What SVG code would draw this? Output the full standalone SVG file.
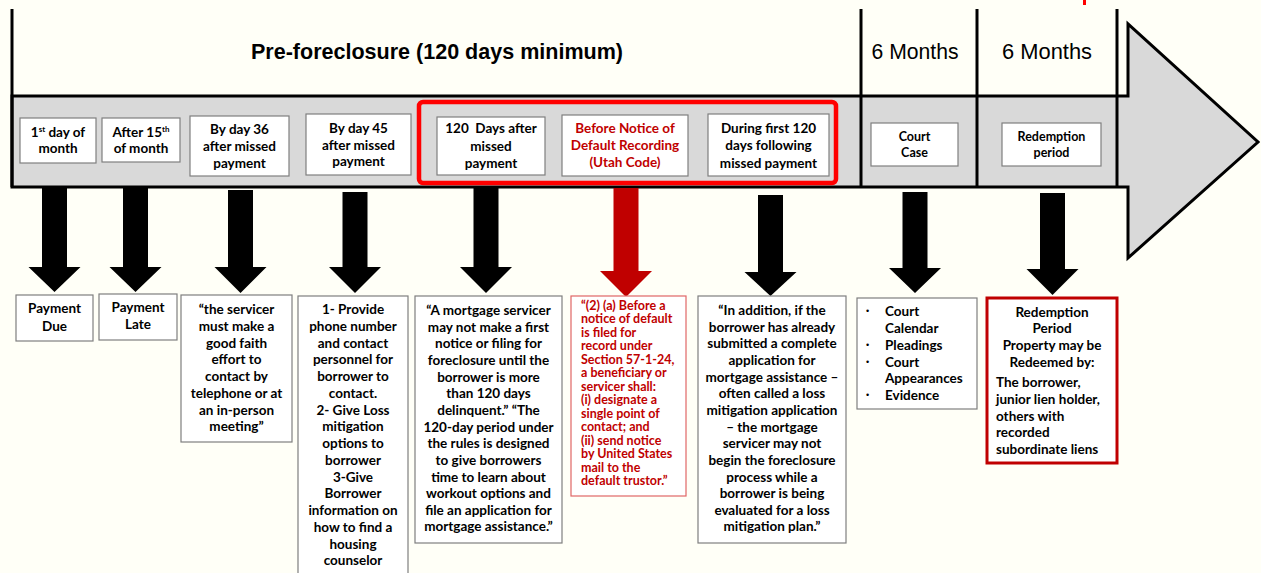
<svg xmlns="http://www.w3.org/2000/svg" width="1261" height="573" viewBox="0 0 1261 573">
<style>
.t{font-family:Lato,"Liberation Sans",sans-serif;font-weight:bold;font-size:13.5px;fill:#000}
.c{text-anchor:middle}
.r{fill:#C00000}
.sm{font-size:12.5px}
.bul{font-family:"Liberation Sans",sans-serif;font-size:9px;fill:#000}
.box{fill:#fff;stroke:#7F7F7F;stroke-width:1.2}
.line{stroke:#000;stroke-width:3;fill:none}
.hdr{font-family:"Liberation Sans",Arial,sans-serif;font-size:22px;fill:#000;text-anchor:middle}
.ar{fill:#000}
.ar.red{fill:#C00000}
</style>
<rect width="1261" height="573" fill="#FFFFF7"/>
<rect x="1083" y="0" width="3" height="5" fill="#FF0000"/>

<g id="timeline">
<path d="M12,96 L1128,96 L1128,24 L1258,142 L1128,258 L1128,187 L12,187 Z" fill="#D9D9D9" stroke="#000" stroke-width="3" stroke-linejoin="miter"/>
<line class="line" x1="12" y1="9" x2="12" y2="187"/>
<line class="line" x1="861" y1="9" x2="861" y2="187"/>
<line class="line" x1="977" y1="9" x2="977" y2="187"/>
<line class="line" x1="1117" y1="9" x2="1117" y2="187"/>
<text class="hdr" font-weight="bold" x="437" y="59" textLength="372" lengthAdjust="spacingAndGlyphs">Pre-foreclosure (120 days minimum)</text>
<text class="hdr" x="915" y="59" textLength="87" lengthAdjust="spacingAndGlyphs">6 Months</text>
<text class="hdr" x="1047" y="59" textLength="90" lengthAdjust="spacingAndGlyphs">6 Months</text>
<rect x="419" y="102" width="417" height="81" rx="4" fill="none" stroke="#FF0000" stroke-width="4.5"/>
</g>

<g id="n1"><rect class="box" x="20" y="118" width="76" height="45"/>
<text class="t c" x="58" y="137">1<tspan font-size="8" dy="-5">st</tspan><tspan dy="5"> day of</tspan></text>
<text class="t c" x="58" y="153">month</text></g>
<g id="n2"><rect class="box" x="102" y="118" width="78" height="44"/>
<text class="t c" x="141" y="137">After 15<tspan font-size="8" dy="-5">th</tspan></text>
<text class="t c" x="141" y="153">of month</text></g>
<g id="n3"><rect class="box" x="190" y="116" width="99" height="60"/>
<text class="t c" x="239.5" y="134">By day 36</text>
<text class="t c" x="239.5" y="151">after missed</text>
<text class="t c" x="239.5" y="168">payment</text></g>
<g id="n4"><rect class="box" x="306" y="114" width="105" height="61"/>
<text class="t c" x="358.5" y="133">By day 45</text>
<text class="t c" x="358.5" y="150">after missed</text>
<text class="t c" x="358.5" y="166">payment</text></g>
<g id="n5"><rect class="box" x="437" y="117" width="108" height="58"/>
<text class="t c" x="491" y="133" xml:space="preserve">120  Days after</text>
<text class="t c" x="491" y="151">missed</text>
<text class="t c" x="491" y="168">payment</text></g>
<g id="n6"><rect class="box" x="562" y="115" width="126" height="61"/>
<text class="t c r" x="625" y="133">Before Notice of</text>
<text class="t c r" x="625" y="150">Default Recording</text>
<text class="t c r" x="625" y="167">(Utah Code)</text></g>
<g id="n7"><rect class="box" x="708" y="114" width="121" height="62"/>
<text class="t c" x="768.5" y="133">During first 120</text>
<text class="t c" x="768.5" y="150">days following</text>
<text class="t c" x="768.5" y="168">missed payment</text></g>
<g id="n8"><rect class="box" x="871" y="123" width="87" height="43"/>
<text class="t c sm" x="914.5" y="141">Court</text>
<text class="t c sm" x="914.5" y="157">Case</text></g>
<g id="n9"><rect class="box" x="1002" y="123" width="99" height="43"/>
<text class="t c sm" x="1051.5" y="141">Redemption</text>
<text class="t c sm" x="1051.5" y="157">period</text></g>

<g id="connectors">
<polygon class="ar" points="42,188 67,188 67,267 80.5,267 54.5,292 28.5,267 42,267"/>
<polygon class="ar" points="123,188 148,188 148,267 161.5,267 135.5,292 109.5,267 123,267"/>
<polygon class="ar" points="228,190 253,190 253,267 266.5,267 240.5,293 214.5,267 228,267"/>
<polygon class="ar" points="342.5,192 367.5,192 367.5,267 381,267 355,293 329,267 342.5,267"/>
<polygon class="ar" points="473.5,188 498.5,188 498.5,267 512,267 486,293 460,267 473.5,267"/>
<polygon class="ar red" points="613.5,188 638.5,188 638.5,271 652,271 626,297 600,271 613.5,271"/>
<polygon class="ar" points="758,195 783,195 783,272 796.5,272 770.5,296 744.5,272 758,272"/>
<polygon class="ar" points="902.5,192 927.5,192 927.5,268 941,268 915,293 889,268 902.5,268"/>
<polygon class="ar" points="1040,193 1065,193 1065,269 1078.5,269 1052.5,295 1026.5,269 1040,269"/>
</g>

<g id="b1"><rect class="box" x="16" y="295" width="77" height="46"/>
<text class="t c" x="54.5" y="313">Payment</text>
<text class="t c" x="54.5" y="331">Due</text></g>
<g id="b2"><rect class="box" x="99" y="294" width="78" height="46"/>
<text class="t c" x="138" y="312">Payment</text>
<text class="t c" x="138" y="329">Late</text></g>
<g id="b3"><rect class="box" x="181" y="295" width="111" height="147"/>
<text class="t c" x="236.5" y="314">“the servicer<tspan x="236.5" dy="16.75">must make a</tspan><tspan x="236.5" dy="16.75">good faith</tspan><tspan x="236.5" dy="16.75">effort to</tspan><tspan x="236.5" dy="16.75">contact by</tspan><tspan x="236.5" dy="16.75">telephone or at</tspan><tspan x="236.5" dy="16.75">an in-person</tspan><tspan x="236.5" dy="16.75">meeting”</tspan></text></g>
<g id="b4"><rect class="box" x="298" y="296" width="110" height="290"/>
<text class="t c" x="353" y="314">1- Provide<tspan x="353" dy="16.75">phone number</tspan><tspan x="353" dy="16.75">and contact</tspan><tspan x="353" dy="16.75">personnel for</tspan><tspan x="353" dy="16.75">borrower to</tspan><tspan x="353" dy="16.75">contact.</tspan><tspan x="353" dy="16.75">2- Give Loss</tspan><tspan x="353" dy="16.75">mitigation</tspan><tspan x="353" dy="16.75">options to</tspan><tspan x="353" dy="16.75">borrower</tspan><tspan x="353" dy="16.75">3-Give</tspan><tspan x="353" dy="16.75">Borrower</tspan><tspan x="353" dy="16.75">information on</tspan><tspan x="353" dy="16.75">how to find a</tspan><tspan x="353" dy="16.75">housing</tspan><tspan x="353" dy="16.75">counselor</tspan></text></g>
<g id="b5"><rect class="box" x="415" y="296" width="147" height="247"/>
<text class="t c" x="488.5" y="315">“A mortgage servicer<tspan x="488.5" dy="16.65">may not make a first</tspan><tspan x="488.5" dy="16.65">notice or filing for</tspan><tspan x="488.5" dy="16.65">foreclosure until the</tspan><tspan x="488.5" dy="16.65">borrower is more</tspan><tspan x="488.5" dy="16.65">than 120 days</tspan><tspan x="488.5" dy="16.65">delinquent.” “The</tspan><tspan x="488.5" dy="16.65">120-day period under</tspan><tspan x="488.5" dy="16.65">the rules is designed</tspan><tspan x="488.5" dy="16.65">to give borrowers</tspan><tspan x="488.5" dy="16.65">time to learn about</tspan><tspan x="488.5" dy="16.65">workout options and</tspan><tspan x="488.5" dy="16.65">file an application for</tspan><tspan x="488.5" dy="16.65">mortgage assistance.”</tspan></text></g>
<g id="b6"><rect x="571" y="296" width="115" height="200" fill="#fff" stroke="#E06666" stroke-width="1.2"/>
<text class="t r sm" x="581" y="310">“(2) (a) Before a<tspan x="581" dy="13.46">notice of default</tspan><tspan x="581" dy="13.46">is filed for</tspan><tspan x="581" dy="13.46">record under</tspan><tspan x="581" dy="13.46">Section 57-1-24,</tspan><tspan x="581" dy="13.46">a beneficiary or</tspan><tspan x="581" dy="13.46">servicer shall:</tspan><tspan x="581" dy="13.46">(i) designate a</tspan><tspan x="581" dy="13.46">single point of</tspan><tspan x="581" dy="13.46">contact; and</tspan><tspan x="581" dy="13.46">(ii) send notice</tspan><tspan x="581" dy="13.46">by United States</tspan><tspan x="581" dy="13.46">mail to the</tspan><tspan x="581" dy="13.46">default trustor.”</tspan></text></g>
<g id="b7"><rect class="box" x="698" y="296" width="148" height="247"/>
<text class="t c" x="772" y="315">“In addition, if the<tspan x="772" dy="16.65">borrower has already</tspan><tspan x="772" dy="16.65">submitted a complete</tspan><tspan x="772" dy="16.65">application for</tspan><tspan x="772" dy="16.65">mortgage assistance –</tspan><tspan x="772" dy="16.65">often called a loss</tspan><tspan x="772" dy="16.65">mitigation application</tspan><tspan x="772" dy="16.65">– the mortgage</tspan><tspan x="772" dy="16.65">servicer may not</tspan><tspan x="772" dy="16.65">begin the foreclosure</tspan><tspan x="772" dy="16.65">process while a</tspan><tspan x="772" dy="16.65">borrower is being</tspan><tspan x="772" dy="16.65">evaluated for a loss</tspan><tspan x="772" dy="16.65">mitigation plan.”</tspan></text></g>
<g id="b8"><rect class="box" x="857" y="298" width="120" height="111"/>
<text class="bul" x="866" y="314">•</text><text class="t" x="885" y="316">Court</text>
<text class="t" x="885" y="333">Calendar</text>
<text class="bul" x="866" y="348">•</text><text class="t" x="885" y="350">Pleadings</text>
<text class="bul" x="866" y="364.5">•</text><text class="t" x="885" y="366.5">Court</text>
<text class="t" x="885" y="383">Appearances</text>
<text class="bul" x="866" y="398">•</text><text class="t" x="885" y="400">Evidence</text></g>
<g id="b9"><rect x="987" y="298" width="130" height="165" fill="#fff" stroke="#C00000" stroke-width="3"/>
<text class="t c" x="1052" y="317">Redemption</text>
<text class="t c" x="1052" y="333">Period</text>
<text class="t c" x="1052" y="350">Property may be</text>
<text class="t c" x="1052" y="367">Redeemed by:</text>
<text class="t" x="996" y="387">The borrower,<tspan x="996" dy="16.75">junior lien holder,</tspan><tspan x="996" dy="16.75">others with</tspan><tspan x="996" dy="16.75">recorded</tspan><tspan x="996" dy="16.75">subordinate liens</tspan></text></g>
</svg>
